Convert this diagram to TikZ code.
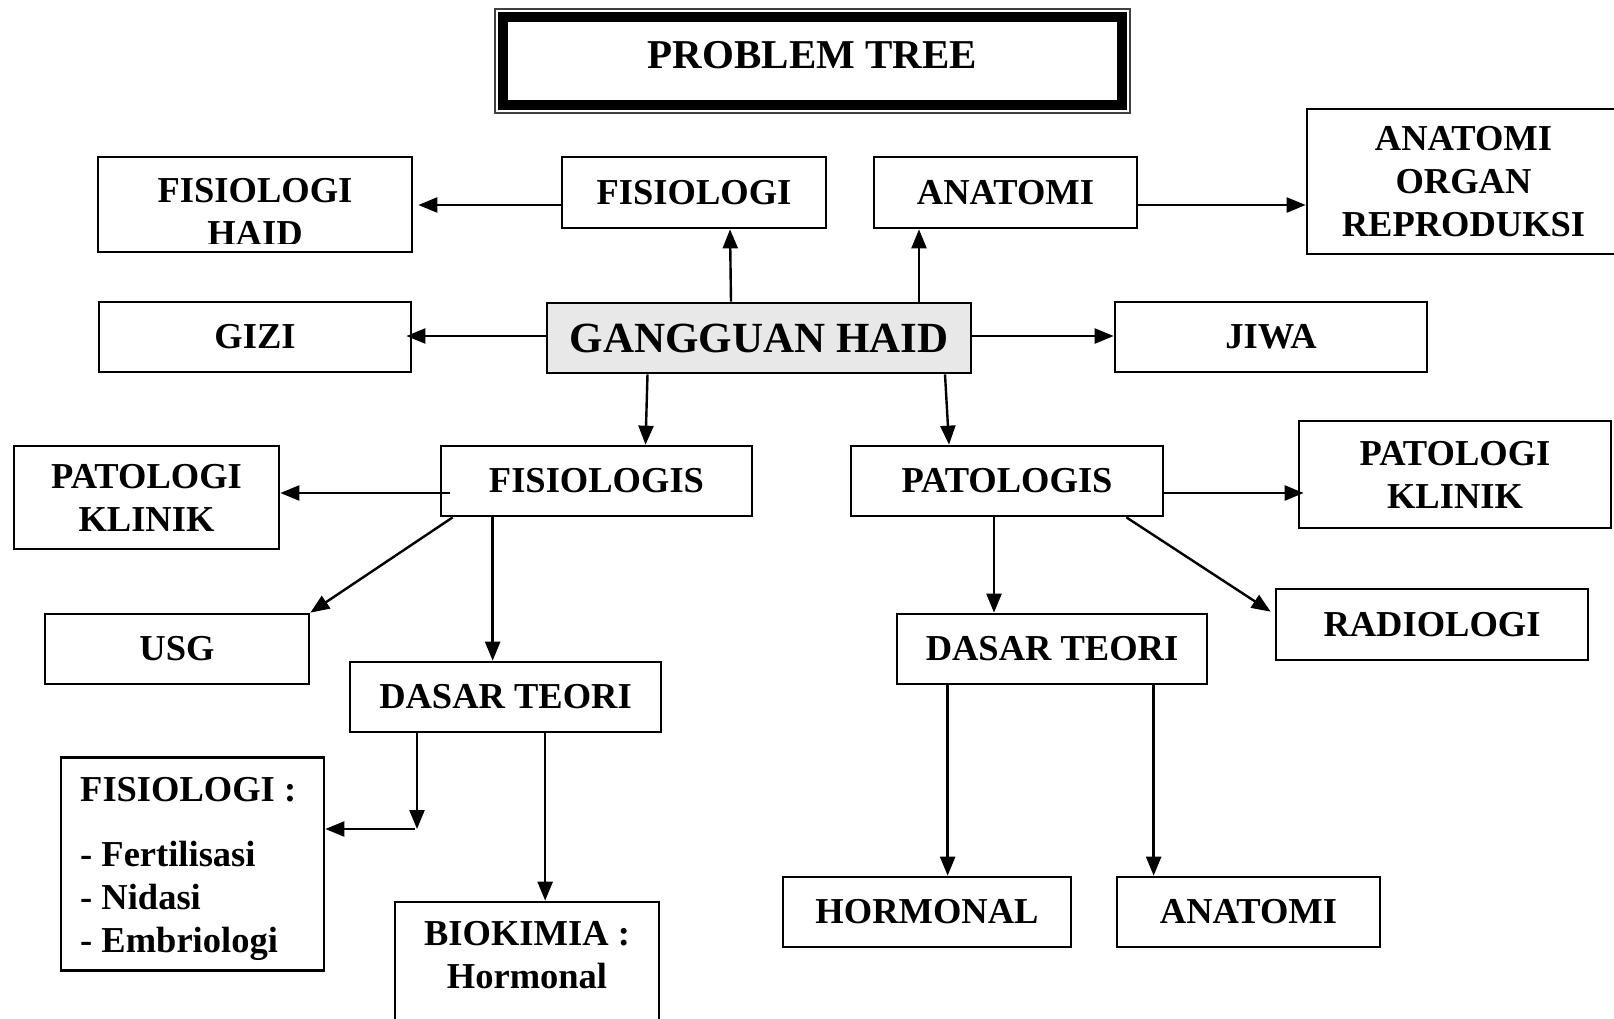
\documentclass[tikz,border=0pt]{standalone}
\usepackage{fontspec}
\setmainfont{Liberation Serif}
\usetikzlibrary{arrows.meta}
\newcommand{\bxfont}{\bfseries\fontsize{36.5}{43}\selectfont}
\newcommand{\ghfont}{\bfseries\fontsize{43}{50}\selectfont}
\newcommand{\ttlfont}{\bfseries\fontsize{41}{48}\selectfont}
\tikzset{
  box/.style={draw, line width=2.7pt, inner sep=0pt, align=center, font=\bxfont},
  txt/.style={inner sep=0pt, align=center, font=\bxfont},
  arr/.style={line width=2.4pt, -{Triangle[length=19pt,width=15pt]}},
}
\begin{document}
\begin{tikzpicture}[x=1pt,y=-1pt]
\useasboundingbox (0,0) rectangle (1614,1018);

% title
\node[draw=black!75, line width=1.2pt, minimum width=635pt, minimum height=104pt, inner sep=0pt] (title) at (812.5,61) {};
\draw[line width=10pt] ([xshift=9pt,yshift=-9pt]title.north west) rectangle ([xshift=-9pt,yshift=9pt]title.south east);
\node[inner sep=0pt, font=\ttlfont] (titleT) at (812.5,55) {PROBLEM TREE};

% boxes
\node[box, minimum width=314pt, minimum height=95pt] (fisH) at (255,204.5) {};
\begin{scope}
  \clip (98,157) rectangle (412,243);
  \node[txt] (fisHt) at (255,211.75) {FISIOLOGI\\HAID};
\end{scope}
\node[box, minimum width=264pt, minimum height=71pt] (fisT) at (694,192.5) {FISIOLOGI};
\node[box, minimum width=263pt, minimum height=71pt] (anaT) at (1005.5,192.5) {ANATOMI};
\node[box, minimum width=313pt, minimum height=145pt] (aor) at (1463.5,181.5) {ANATOMI\\ORGAN\\REPRODUKSI};
\node[box, minimum width=312pt, minimum height=70pt] (gizi) at (255,337) {GIZI};
\node[box, fill=black!9, font=\ghfont, minimum width=424pt, minimum height=70pt] (gh) at (759,338) {GANGGUAN HAID};
\node[box, minimum width=312pt, minimum height=70pt] (jiwa) at (1271,337) {JIWA};
\node[box, minimum width=265pt, minimum height=103pt] (pkL) at (146.5,497.5) {PATOLOGI\\KLINIK};
\node[box, minimum width=311pt, minimum height=70pt] (fisL) at (596.5,481) {FISIOLOGIS};
\node[box, minimum width=312pt, minimum height=70pt] (patL) at (1007,481) {PATOLOGIS};
\node[box, minimum width=312pt, minimum height=107pt] (pkR) at (1455,474.5) {PATOLOGI\\KLINIK};
\node[box, minimum width=264pt, minimum height=70pt] (usg) at (177,649) {USG};
\node[box, minimum width=311pt, minimum height=70pt] (dtL) at (505.5,697) {DASAR TEORI};
\node[box, minimum width=310pt, minimum height=70pt] (dtR) at (1052,649) {DASAR TEORI};
\node[box, minimum width=312pt, minimum height=71pt] (radio) at (1432,624.5) {RADIOLOGI};
\node[box, minimum width=263pt, minimum height=213pt] (list) at (192.5,864) {};
\node[txt, anchor=base west, align=left] (listT) at (80,952.5) {FISIOLOGI :\\[22pt]- Fertilisasi\\- Nidasi\\- Embriologi};
\node[box, minimum width=264pt, minimum height=130pt] (bio) at (527,967) {};
\node[txt, anchor=base] (bioT) at (527,988.5) {BIOKIMIA :\\Hormonal};
\node[box, minimum width=288pt, minimum height=70pt] (horm) at (927,912) {HORMONAL};
\node[box, minimum width=263pt, minimum height=70pt] (anaB) at (1248.5,912) {ANATOMI};

% connector start points
\coordinate (a1) at ([yshift=-12.5pt]fisT.west);
\coordinate (a3) at ([xshift=160pt]gh.north);
\coordinate (a4) at ([yshift=-12.5pt]anaT.east);
\coordinate (a5) at ([yshift=2pt]gh.west);
\coordinate (a6) at ([yshift=2pt]gh.east);
\coordinate (a9) at ([xshift=10pt,yshift=-12pt]fisL.west);
\coordinate (a11) at ([xshift=53pt]fisL.south west);
\coordinate (a12) at ([yshift=-12pt]patL.east);
\coordinate (a13) at ([xshift=-13pt]patL.south);
\coordinate (bend) at (417,829);
\coordinate (a16) at ([xshift=196.5pt]dtL.south west);
\coordinate (a17) at ([xshift=52pt]dtR.south west);
\coordinate (a18) at ([xshift=258pt]dtR.south west);

% connectors
\draw[arr, shorten >=5pt] (a1) -- (a1 -| fisH.east);
\draw[arr] ([xshift=-28pt]gh.north) -- ([xshift=36pt]fisT.south);
\draw[arr] (a3) -- (a3 |- anaT.south);
\draw[arr] (a4) -- (a4 -| aor.west);
\draw[arr, shorten >=-6pt] (a5) -- (a5 -| gizi.east);
\draw[arr] (a6) -- (a6 -| jiwa.west);
\draw[arr] ([xshift=-111.5pt]gh.south) -- ([xshift=49pt]fisL.north);
\draw[arr] ([xshift=186pt]gh.south) -- ([xshift=-58pt]patL.north);
\draw[arr] (a9) -- (a9 -| pkL.east);
\draw[arr] ([xshift=13pt]fisL.south west) -- (usg.north east);
\draw[arr] (a11) -- (a11 |- dtL.north);
\draw[arr, shorten >=-6pt] (a12) -- (a12 -| pkR.west);
\draw[arr] (a13) -- (a13 |- dtR.north);
\draw[arr] ([xshift=-38pt]patL.south east) -- ([xshift=-4pt,yshift=-24pt]radio.north west);
\draw[arr] (bend |- dtL.south) -- (bend);
\draw[arr] ([xshift=-2pt]bend) -- (bend -| list.east);
\draw[arr] (a16) -- (a16 |- bio.north);
\draw[arr] (a17) -- (a17 |- horm.north);
\draw[arr] (a18) -- (a18 |- anaB.north);
\end{tikzpicture}
\end{document}
